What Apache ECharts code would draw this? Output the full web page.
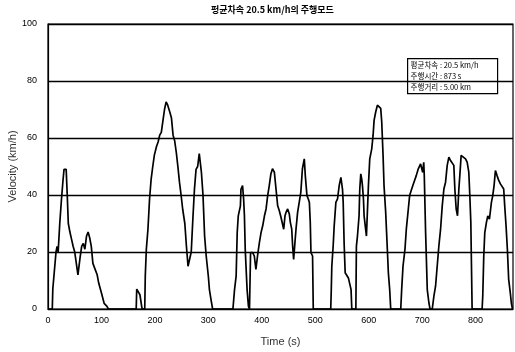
<!DOCTYPE html>
<html>
<head>
<meta charset="utf-8">
<script src="https://cdn.jsdelivr.net/npm/echarts@6/dist/echarts.min.js"></script>
<style>
  html, body { margin: 0; padding: 0; background: #fff; }
  #chart { width: 515px; height: 352px; }
</style>
</head>
<body>
<div id="chart"></div>
<script>
// Driving cycle: elapsed time (s) and vehicle speed (km/h)
const timeSec = [
  0, 8, 9, 12, 15, 17, 19, 22, 25, 28, 30, 34, 36, 38, 41, 44, 47, 50, 53, 56, 58, 60, 63, 66, 69, 72, 75, 78, 81, 84, 88, 92, 95, 100, 105, 110, 113,
  165, 166, 169, 172, 176,
  181, 182, 184, 187, 190, 193, 196, 199, 203, 206, 209, 212, 215, 218, 221, 224, 228, 231, 234, 237, 240, 243, 246, 249, 252, 256, 259, 262, 264, 268, 271, 274, 277, 280, 283, 287, 290, 293, 296, 300, 302, 305, 308,
  346, 349, 352, 354, 356, 360, 361, 364, 366, 367.5, 369, 372.5, 375, 377, 379, 383, 386, 389, 392, 395.5, 398.6, 401.7, 405, 408, 411, 414, 417, 420, 423.5, 426.6, 429.7, 432.8, 436, 439, 441, 443.4, 445.3, 448.4, 451.5, 453.4, 456, 457.7, 459.6, 462, 464, 467, 470, 473, 476, 479.5, 481.4, 484.5, 487, 489, 490.7, 492, 495, 496.3,
  529, 530, 531, 533.5, 535.4, 538.6, 541.7, 544.8, 548, 549.8, 551, 552.3, 554, 556, 558.5, 562, 565, 567, 568.4,
  576, 577, 579, 582, 583.3, 585.2, 587, 588.3, 590.2, 591.4, 595.8, 599.5, 602, 605.7, 608.2, 610.1, 613.2, 616.3, 619.4, 622.5, 624.4, 626.9, 628.7, 631.8, 634.9, 636.8, 639.3, 641.2,
  660, 661.7, 664.2, 667.9, 670.4, 674.1, 676.6, 680.3, 684.7, 689, 692.8, 697.1, 700.2, 701, 703, 704, 706.5, 709.6, 712.7, 714.8,
  718.9, 722, 725.1, 728.2, 731.3, 734.5, 737.6, 740.7, 743.8, 746.9, 750, 753.1, 756.2, 759.3, 761.2, 763.7, 766.2, 768.7, 770.5, 773, 776.1, 781.1, 784.2, 787.3, 789.2, 791.1, 792.3, 793.5,
  812.2, 813.4, 815.3, 817.2, 820.3, 822.8, 825.9, 829.6, 832.1, 834.6, 837.1, 840.2, 843.3, 846.4, 849.5, 852.6, 854.5, 857, 859.5, 861.9, 865, 866.9, 869
];
const speedKmh = [
  0, 0, 7, 7, 20, 22, 20, 30, 38, 45, 49, 49, 40, 30, 27, 24.5, 22, 20, 16, 12, 12, 18, 22, 23, 21, 25.5, 27, 25, 22, 16, 14, 12, 9, 5.6, 2, 1, 0,
  0, 7, 7, 5, 0,
  0, 11.5, 21, 28, 38.6, 45.6, 50, 54, 57, 58.6, 61, 62, 66, 70, 72.7, 71.5, 69, 67, 61, 59, 55, 50, 44.5, 40, 35, 30, 22, 15, 14.5, 20, 31.5, 42, 49, 50, 54.5, 48, 40, 25.6, 18.6, 11.5, 6.8, 3.3, 0,
  0, 6.8, 11.5, 26.8, 32.7, 36.2, 42, 43.3, 38.6, 32.7, 21, 6.8, 1, 0, 19.8, 19.8, 18.6, 13.9, 18.6, 23.3, 26.8, 29.2, 32.7, 35.1, 39.8, 43.3, 47.4, 49.2, 48, 42.1, 36.2, 34.5, 32.1, 31.5, 28, 32.7, 33.9, 35.1, 33.3, 30.4, 28, 22.1, 17.4, 23.3, 28, 33.9, 37.4, 40.9, 49.2, 52.7, 46.8, 39.8, 38.6, 37.4, 30.4, 19.8, 18.6, 0,
  0, 6.8, 15, 22, 29, 37.4, 38.6, 43.3, 46.2, 46.6, 42, 37.4, 23.3, 12.7, 12.1, 10.9, 10.4, 6.8, 0,
  0, 22, 25.6, 32.7, 42, 47.4, 45.6, 43.3, 38.6, 32.7, 25.6, 43.3, 52.7, 56.2, 60.9, 66.2, 69.2, 71.5, 72.1, 70.4, 65.6, 53.9, 43.3, 33.9, 20.9, 12.7, 6.8, 0,
  0, 6.8, 15, 21, 28, 35, 39.8, 42, 44.5, 46.8, 49.2, 50.9, 51.5, 48, 51.5, 46.8, 26.8, 6.8, 2.1, 0,
  0, 4.5, 8, 15.1, 22.1, 28, 36.2, 42.1, 44.5, 50.4, 53.3, 52.1, 51.5, 50.4, 42.1, 35.1, 32.7, 42.1, 46.8, 53.9, 54.5, 52.7, 51.5, 48, 39.8, 30.4, 15.1, 0,
  0, 4.5, 18.6, 26.8, 30.4, 32.7, 31.5, 37.4, 39.8, 43.3, 48.6, 46.8, 45.1, 43.9, 43.3, 42.1, 36.2, 29.2, 20.9, 10.4, 5.6, 2.1, 0
];
const xTicks = [0, 100, 200, 300, 400, 500, 600, 700, 800];
const yTicks = [0, 20, 40, 60, 80, 100];

const chartTitle = '평균차속 20.5 km/h의 주행모드';
const summaryLines = ['평균차속 : 20.5 km/h', '주행시간 : 873 s', '주행거리 : 5.00 km'];

const latin = '"Liberation Sans", Arial, sans-serif';
const cjk = '"Noto Sans CJK KR", "Liberation Sans", sans-serif';

const seriesData = timeSec.map((t, i) => [t, speedKmh[i]]);

const chart = echarts.init(document.getElementById('chart'), null, { renderer: 'canvas' });

const grid = { left: 48, right: 2, top: 24, bottom: 43 };

chart.setOption({
  animation: false,
  backgroundColor: '#fff',
  grid: Object.assign({
    show: true, borderColor: '#000', borderWidth: 1.2, backgroundColor: 'transparent',
    containLabel: false, outerBoundsMode: 'none'
  }, grid),
  xAxis: {
    type: 'value',
    min: 0,
    max: 870,
    interval: 100,
    axisLine: { show: true, lineStyle: { color: '#000', width: 1.2 } },
    axisTick: { show: false },
    splitLine: { show: false },
    axisLabel: {
      color: '#000', fontSize: 9, fontFamily: latin, margin: 7,
      showMaxLabel: false,
      formatter: v => (xTicks.indexOf(v) >= 0 ? String(v) : '')
    },
    name: 'Time (s)',
    nameLocation: 'middle',
    nameGap: 27,
    nameMoveOverlap: false,
    nameTextStyle: { color: '#333', fontSize: 11, fontFamily: latin }
  },
  yAxis: {
    type: 'value',
    min: 0,
    max: 100,
    interval: 20,
    axisLine: { show: true, lineStyle: { color: '#000', width: 1.2 } },
    axisTick: { show: false },
    splitLine: { show: true, lineStyle: { color: '#000', width: 1.3 } },
    axisLabel: {
      color: '#000', fontSize: 9, fontFamily: latin, margin: 11,
      formatter: v => (yTicks.indexOf(v) >= 0 ? String(v) : '')
    },
    name: 'Velocity (km/h)',
    nameLocation: 'middle',
    nameGap: 30,
    nameMoveOverlap: false,
    nameTextStyle: { color: '#333', fontSize: 11, fontFamily: latin }
  },
  series: [{
    type: 'line',
    data: seriesData,
    showSymbol: false,
    symbol: 'none',
    lineStyle: { color: '#000', width: 1.7 },
    z: 3
  }],
  graphic: [
    {
      type: 'text',
      left: 281 - 70,
      top: 5,
      style: {
        text: chartTitle,
        fill: '#000',
        font: 'bold 9px ' + cjk,
        width: 140,
        align: 'center'
      }
    },
    {
      type: 'group',
      left: 407,
      top: 58,
      z: 10,
      children: [
        {
          type: 'rect',
          shape: { x: 0, y: 0, width: 90, height: 35 },
          style: { fill: '#fff', stroke: '#000', lineWidth: 1.2 }
        },
        {
          type: 'text',
          x: 3, y: 2.5,
          style: { text: summaryLines[0], fill: '#000', font: '7.5px ' + cjk }
        },
        {
          type: 'text',
          x: 3, y: 13.5,
          style: { text: summaryLines[1], fill: '#000', font: '7.5px ' + cjk }
        },
        {
          type: 'text',
          x: 3, y: 24.5,
          style: { text: summaryLines[2], fill: '#000', font: '7.5px ' + cjk }
        }
      ]
    }
  ]
});
</script>
</body>
</html>
